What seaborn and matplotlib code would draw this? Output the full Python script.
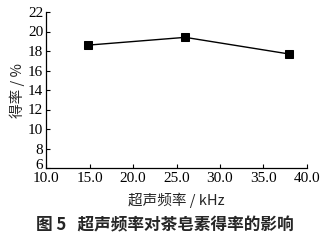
import matplotlib
matplotlib.use("Agg")
import matplotlib.pyplot as plt
import matplotlib.transforms as mtransforms
import seaborn as sns
import pandas as pd

freq = [14.8, 26.0, 37.9]
yield_rate = [18.6, 19.4, 17.7]
xticks = [10, 15, 20, 25, 30, 35, 40]
yticks = [6, 8, 10, 12, 14, 16, 18, 20, 22]

sns.set_style("ticks")
plt.rcParams['font.family'] = ['Liberation Serif', 'Noto Sans CJK SC']

df = pd.DataFrame({"freq": freq, "rate": yield_rate})

fig = plt.figure(figsize=(3.29, 2.40), dpi=100)
ax = fig.add_axes([0.14, 0.30, 0.793, 0.65])
sns.lineplot(data=df, x="freq", y="rate", ax=ax, color="black", lw=1.0,
             marker="s", markersize=6, markeredgecolor="black")
ax.set_xlim(10, 40)
ax.set_ylim(6, 22)
ax.set_xticks(xticks)
ax.set_xticklabels([f"{v:.1f}" for v in xticks])
ax.set_yticks(yticks)
ax.tick_params(direction="in", length=3, width=0.8, labelsize=11, colors="black")
ax.tick_params(axis="y", pad=2)
ax.tick_params(axis="x", pad=3)
# nudge the lowest y label up, as in the reference
lab6 = ax.get_yticklabels()[0]
lab6.set_transform(lab6.get_transform() + mtransforms.ScaledTranslation(0, 4/100, fig.dpi_scale_trans))
for s in ["top", "right"]:
    ax.spines[s].set_visible(False)
for s in ["left", "bottom"]:
    ax.spines[s].set_linewidth(0.9)
    ax.spines[s].set_color("black")
ax.set_xlabel("超声频率 / kHz", fontsize=10.5, family=['Noto Sans CJK SC'], labelpad=5)
ax.set_ylabel("得率 / %", fontsize=10.5, family=['Noto Sans CJK SC'], labelpad=2)
fig.text(0.5, 0.025, "图 5   超声频率对茶皂素得率的影响", ha="center", va="bottom",
         fontsize=12, fontweight="bold", family=['Noto Sans CJK SC'])
fig.savefig("out.png", dpi=100)
